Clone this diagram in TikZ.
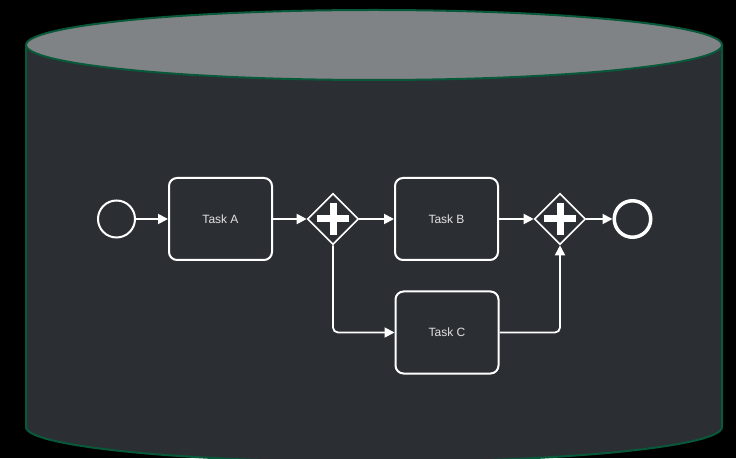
\documentclass[tikz,border=0pt]{standalone}
\usepackage{fontspec}
\setmainfont{Liberation Sans}
\usetikzlibrary{arrows.meta,shapes.geometric}
\definecolor{tankbody}{RGB}{43,47,51}
\definecolor{tanktop}{RGB}{128,131,133}
\definecolor{tankline}{RGB}{8,88,58}
\definecolor{tasktext}{RGB}{225,225,225}
\tikzset{
  task/.style={draw=white, line width=2pt, rounded corners=8pt, minimum width=103pt, minimum height=82pt, inner sep=0pt, text=tasktext, font=\fontsize{12}{14}\selectfont},
  gate/.style={draw=white, line width=1.6pt, diamond, minimum size=51pt, inner sep=0pt},
  startev/.style={draw=white, line width=2pt, circle, minimum size=37pt, inner sep=0pt},
  endev/.style={draw=white, line width=3.5pt, circle, minimum size=36.5pt, inner sep=0pt},
  flow/.style={white, line width=1.8pt, ->},
}
\begin{document}
\begin{tikzpicture}[>={Triangle[length=10pt,width=10pt]}, x=1pt, y=1pt]
\useasboundingbox (0,0) rectangle (736,458);
\fill[black] (0,0) rectangle (736,458);
\filldraw[fill=tankbody, draw=tankline, line width=2pt] (26,413) -- (26,31) arc[start angle=180, end angle=360, x radius=348, y radius=35] -- (722,413) -- cycle;
\filldraw[fill=tanktop, draw=tankline, line width=2pt] (374,413) ellipse[x radius=348, y radius=35];

\node[startev] (start) at (116.5,239) {};
\node[task] (ta) at (220.5,239) {Task A};
\node[gate] (g1) at (333,239) {};
\node[task] (tb) at (446.5,239) {Task B};
\node[gate] (g2) at (560,239) {};
\node[endev] (end) at (632.5,239) {};
\node[task] (tc) at (447,125.5) {Task C};

\foreach \g in {g1,g2}{
  \fill[white] ([xshift=-16pt,yshift=-3.5pt]\g.center) rectangle ([xshift=16pt,yshift=3.5pt]\g.center);
  \fill[white] ([xshift=-3.5pt,yshift=-16pt]\g.center) rectangle ([xshift=3.5pt,yshift=16pt]\g.center);
}

\draw[flow] (start) -- (ta);
\draw[flow] (ta) -- (g1);
\draw[flow] (g1) -- (tb);
\draw[flow] (tb) -- (g2);
\draw[flow] (g2) -- (end);
\draw[flow, rounded corners=5pt] (g1.south) |- (tc.west);
\draw[flow, rounded corners=5pt] (tc.east) -| (g2.south);
\end{tikzpicture}
\end{document}
